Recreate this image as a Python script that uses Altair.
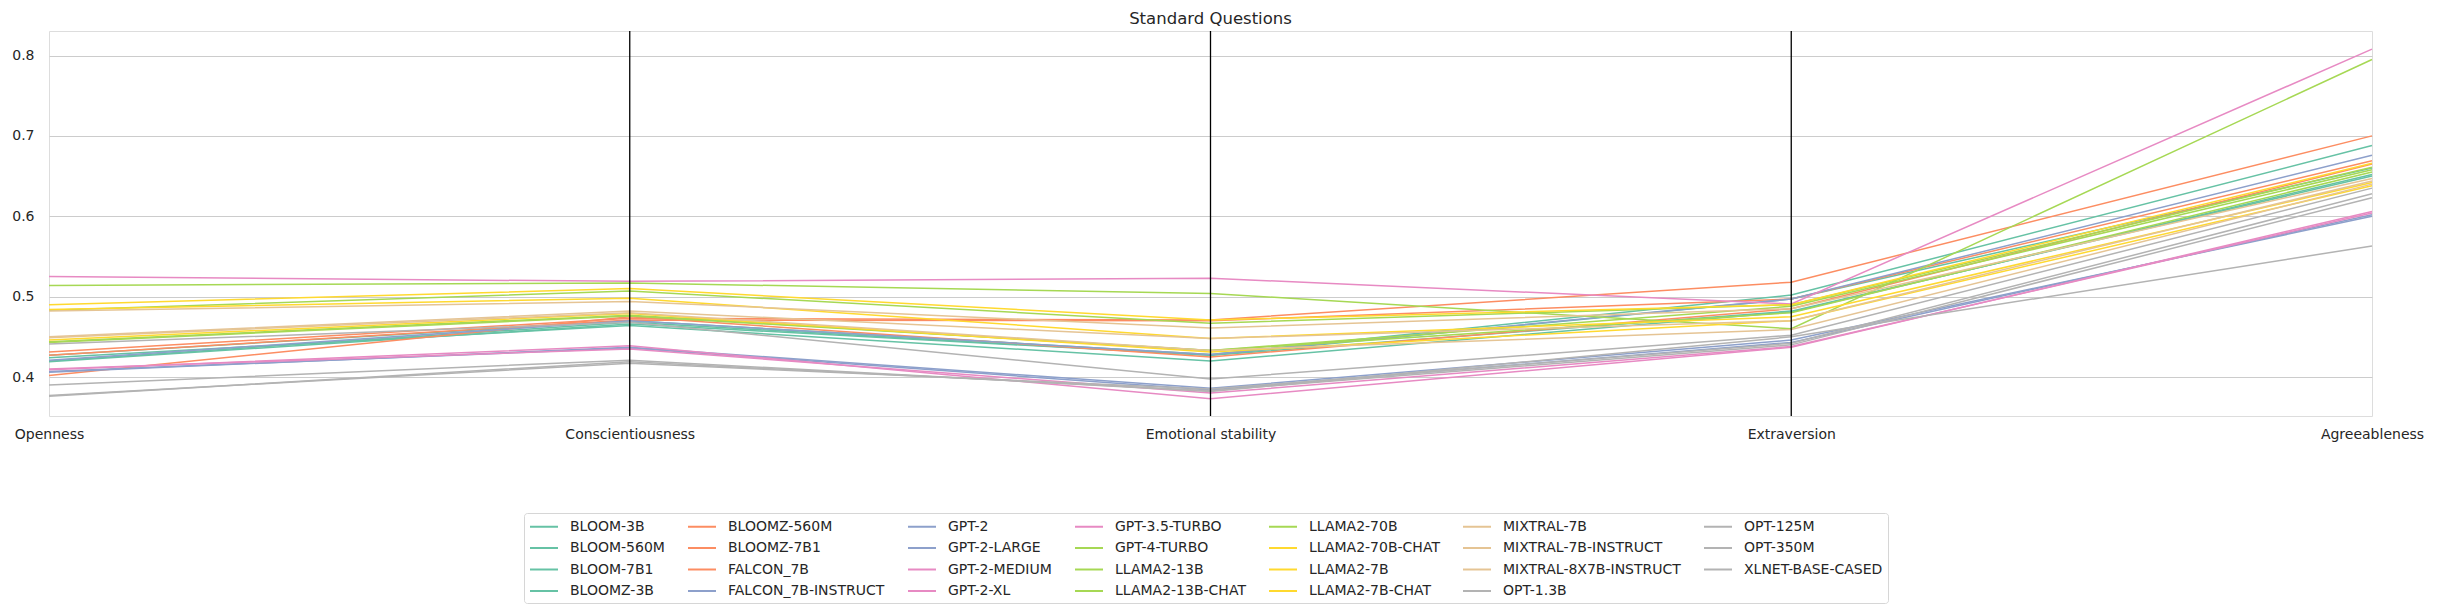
import altair as alt
import pandas as pd

traits = ["Openness", "Conscientiousness", "Emotional stability", "Extraversion", "Agreeableness"]

models = [
    "BLOOM-3B", "BLOOM-560M", "BLOOM-7B1", "BLOOMZ-3B",
    "BLOOMZ-560M", "BLOOMZ-7B1", "FALCON_7B",
    "FALCON_7B-INSTRUCT", "GPT-2", "GPT-2-LARGE",
    "GPT-2-MEDIUM", "GPT-2-XL", "GPT-3.5-TURBO",
    "GPT-4-TURBO", "LLAMA2-13B", "LLAMA2-13B-CHAT", "LLAMA2-70B",
    "LLAMA2-70B-CHAT", "LLAMA2-7B", "LLAMA2-7B-CHAT",
    "MIXTRAL-7B", "MIXTRAL-7B-INSTRUCT", "MIXTRAL-8X7B-INSTRUCT",
    "OPT-1.3B", "OPT-125M", "OPT-350M", "XLNET-BASE-CASED",
]

colors = [
    "#66c2a5", "#66c2a5", "#66c2a5", "#66c2a5",
    "#fc8d62", "#fc8d62", "#fc8d62",
    "#8da0cb", "#8da0cb", "#8da0cb",
    "#e78ac3", "#e78ac3", "#e78ac3",
    "#a6d854", "#a6d854", "#a6d854", "#a6d854",
    "#ffd92f", "#ffd92f", "#ffd92f",
    "#e5c494", "#e5c494", "#e5c494",
    "#b3b3b3", "#b3b3b3", "#b3b3b3", "#b3b3b3",
]

# scores per model: Openness, Conscientiousness, Emotional stability, Extraversion, Agreeableness
openness          = [0.424, 0.420, 0.427, 0.419, 0.402, 0.431, 0.427, 0.421, 0.406, 0.407, 0.409, 0.410, 0.525,
                     0.514, 0.444, 0.443, 0.483, 0.490, 0.446, 0.484, 0.450, 0.449, 0.482, 0.441, 0.377, 0.376, 0.390]
conscientiousness = [0.464, 0.468, 0.470, 0.466, 0.475, 0.473, 0.471, 0.470, 0.437, 0.436, 0.439, 0.435, 0.519,
                     0.517, 0.477, 0.476, 0.507, 0.510, 0.479, 0.498, 0.482, 0.480, 0.494, 0.468, 0.417, 0.419, 0.421]
emotional         = [0.420, 0.427, 0.428, 0.427, 0.425, 0.471, 0.470, 0.428, 0.386, 0.384, 0.373, 0.380, 0.523,
                     0.504, 0.433, 0.433, 0.467, 0.471, 0.431, 0.448, 0.448, 0.433, 0.461, 0.3975, 0.385, 0.383, 0.382]
extraversion      = [0.481, 0.497, 0.502, 0.482, 0.485, 0.518, 0.497, 0.497, 0.446, 0.443, 0.437, 0.438, 0.491,
                     0.460, 0.480, 0.488, 0.490, 0.490, 0.470, 0.475, 0.470, 0.459, 0.485, 0.452, 0.442, 0.440, 0.450]
agreeableness     = [0.652, 0.660, 0.688, 0.650, 0.665, 0.700, 0.669, 0.676, 0.600, 0.602, 0.606, 0.604, 0.808,
                     0.795, 0.655, 0.658, 0.661, 0.666, 0.638, 0.642, 0.644, 0.640, 0.647, 0.635, 0.628, 0.623, 0.563]

y_ticks = [0.4, 0.5, 0.6, 0.7, 0.8]

series = [openness, conscientiousness, emotional, extraversion, agreeableness]
rows = []
for m_i, m in enumerate(models):
    for t_i, t in enumerate(traits):
        rows.append({"Model": m, "Trait": t, "idx": t_i, "Score": series[t_i][m_i]})
df = pd.DataFrame(rows)

font = "DejaVu Sans"
txt = "#262626"

x_enc = alt.X("Trait:N", sort=traits,
              scale=alt.Scale(domain=traits, type="point", padding=0),
              axis=alt.Axis(title=None, labelAngle=0, domain=False, ticks=False, grid=False,
                            labelPadding=11, labelFontSize=14, labelFont=font, labelColor=txt))

lines = alt.Chart(df).mark_line(strokeWidth=1.5).encode(
    x=x_enc,
    y=alt.Y("Score:Q",
            scale=alt.Scale(domain=[0.3515, 0.8305], zero=False, nice=False),
            axis=alt.Axis(title=None, values=y_ticks, format=".1f", grid=True, gridColor="#cccccc",
                          gridWidth=1, domain=False, ticks=False, labelPadding=15,
                          labelFontSize=14, labelFont=font, labelColor=txt)),
    color=alt.Color("Model:N",
                    scale=alt.Scale(domain=models, range=colors),
                    legend=alt.Legend(orient="none", legendX=475, legendY=482, columns=7,
                                      title=None, symbolType="M-1,0L2.733,0", symbolSize=225,
                                      symbolStrokeWidth=2, labelFontSize=14, labelFont=font,
                                      labelColor=txt, labelOffset=24, rowPadding=5.5,
                                      columnPadding=19, padding=5, strokeColor="#d6d6d6",
                                      fillColor="white", cornerRadius=3, labelLimit=400)),
    order=alt.Order("idx:Q"),
)

rule_df = pd.DataFrame({"Trait": traits[1:4]})
rules = alt.Chart(rule_df).mark_rule(color="black", strokeWidth=1.3).encode(
    x=alt.X("Trait:N", sort=traits, scale=alt.Scale(domain=traits, type="point", padding=0))
)

chart = alt.layer(lines, rules).properties(
    width=2323,
    height=385,
    title=alt.TitleParams("Standard Questions", fontSize=16.5, font=font, fontWeight="normal",
                          color=txt, offset=3),
    autosize=alt.AutoSizeParams(type="none"),
    padding={"left": 41, "top": 23, "right": 59, "bottom": 188},
).configure_view(stroke="#cccccc", strokeWidth=1.25).configure(background="white")

chart.save("out.html", embed_options={"renderer": "svg", "actions": False})
